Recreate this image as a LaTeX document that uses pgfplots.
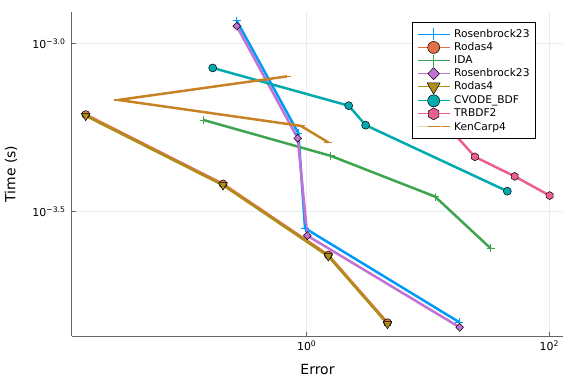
\documentclass[border=0pt]{standalone}
\usepackage{fontspec}
\setmainfont{DejaVu Sans}
\usepackage{pgfplots}
\pgfplotsset{compat=1.18}
\usetikzlibrary{plotmarks}
\definecolor{c1}{HTML}{009AFA}
\definecolor{c2}{HTML}{E36F47}
\definecolor{c3}{HTML}{3EA44E}
\definecolor{c4}{HTML}{C371D2}
\definecolor{c5}{HTML}{AC8E18}
\definecolor{c6}{HTML}{00AAAE}
\definecolor{c7}{HTML}{ED5E93}
\definecolor{c8}{HTML}{C68225}
\pgfdeclareplotmark{hexagon*}{%
  \pgfpathmoveto{\pgfqpointpolar{90}{\pgfplotmarksize}}%
  \pgfpathlineto{\pgfqpointpolar{150}{\pgfplotmarksize}}%
  \pgfpathlineto{\pgfqpointpolar{210}{\pgfplotmarksize}}%
  \pgfpathlineto{\pgfqpointpolar{270}{\pgfplotmarksize}}%
  \pgfpathlineto{\pgfqpointpolar{330}{\pgfplotmarksize}}%
  \pgfpathlineto{\pgfqpointpolar{30}{\pgfplotmarksize}}%
  \pgfpathclose
  \pgfusepathqfillstroke}
\begin{document}
\begin{tikzpicture}
\begin{axis}[
  scale only axis, width=491bp, height=324bp,
  xmode=log, ymode=log,
  xmin=0.01161, xmax=129.7, ymin=1.352e-4, ymax=1.239e-3,
  axis x line*=bottom, axis y line*=left,
  axis line style={draw=black!60, line width=1bp},
  xtick={1,100}, xticklabels={10\textsuperscript{0},10\textsuperscript{2}},
  ytick={0.001,0.00031623},
  yticklabels={10\textsuperscript{\char"2212 3.0},10\textsuperscript{\char"2212 3.5}},
  minor tick style={draw=none},
  tick align=inside, major tick length=4bp,
  major tick style={draw=black!60, line width=0.8bp},
  grid=major, major grid style={draw=black!8, line width=0.6bp},
  tick label style={font=\fontsize{11}{13}\selectfont},
  xticklabel style={yshift=-1bp},
  yticklabel style={xshift=-3bp},
  xlabel={Error}, ylabel={Time (s)},
  every axis x label/.style={at={(axis description cs:0.5,0)}, yshift=-33bp, anchor=center, font=\fontsize{14}{16}\selectfont},
  every axis y label/.style={at={(axis description cs:0,0.5)}, xshift=-61bp, rotate=90, anchor=center, font=\fontsize{14}{16}\selectfont},
  every axis plot/.append style={line width=2.5bp, line join=round},
  legend image code/.code={\draw[mark repeat=2,mark phase=2,#1] plot coordinates {(0bp,0bp) (16bp,0bp) (32bp,0bp)};},
  legend image post style={line width=1bp, every mark/.append style={scale=1.5}},
  legend style={at={(axis description cs:0.692,0.968)}, anchor=north west,
    draw=black, line width=0.8bp, fill=white, inner sep=5bp,
    row sep=0pt, column sep=3bp,
    font=\fontsize{10.7}{12}\selectfont,
    nodes={inner sep=1bp, text height=8.6bp, text depth=2.5bp},
    cells={anchor=west}},
]
\addplot[c1, mark=+, mark size=4bp, mark options={line width=1bp}] coordinates {
 (0.2649,1.167e-3) (0.8531,5.408e-4) (0.9683,2.825e-4) (18.11,1.486e-4)};
\addlegendentry{Rosenbrock23}
\addplot[c2, mark=*, mark size=4bp, mark options={fill=c2, draw=black, line width=0.5bp}] coordinates {
 (0.01507,6.145e-4) (0.2042,3.824e-4) (1.507,2.352e-4) (4.634,1.481e-4)};
\addlegendentry{Rodas4}
\addplot[c3, mark=+, mark size=4bp, mark options={line width=1bp}] coordinates {
 (0.1422,5.916e-4) (1.578,4.634e-4) (11.43,3.508e-4) (32.89,2.460e-4)};
\addlegendentry{IDA}
\addplot[c4, mark=diamond*, mark size=4bp, mark options={fill=c4, draw=black, line width=0.5bp, xscale=1.3}] coordinates {
 (0.2649,1.125e-3) (0.8433,5.224e-4) (1.0116,2.685e-4) (18.24,1.435e-4)};
\addlegendentry{Rosenbrock23}
\addplot[c5, mark=triangle*, mark size=5bp, mark options={fill=c5, draw=black, line width=0.5bp, rotate=180}] coordinates {
 (0.01507,6.095e-4) (0.2042,3.793e-4) (1.507,2.333e-4) (4.634,1.469e-4)};
\addlegendentry{Rodas4}
\addplot[c6, mark=*, mark size=4bp, mark options={fill=c6, draw=black, line width=0.5bp}] coordinates {
 (0.1679,8.453e-4) (2.218,6.531e-4) (3.062,5.715e-4) (45.08,3.639e-4)};
\addlegendentry{CVODE\_BDF}
\addplot[c7, mark=hexagon*, mark size=4bp, mark options={fill=c7, draw=black, line width=0.5bp}] coordinates {
 (10.79,6.383e-4) (24.38,4.603e-4) (51.88,4.027e-4) (100.7,3.532e-4)};
\addlegendentry{TRBDF2}
\addplot[c8, mark=-, mark size=4bp, mark options={line width=1.2bp},
  legend image post style={line width=1bp, every mark/.append style={scale=1, line width=1bp}}] coordinates {
 (0.6887,7.980e-4) (0.02799,6.792e-4) (0.8933,5.689e-4) (1.507,5.082e-4)};
\addlegendentry{KenCarp4}
\end{axis}
\pgfresetboundingbox
\path (-72bp,-48bp) rectangle (504bp,336bp);
\end{tikzpicture}
\end{document}
